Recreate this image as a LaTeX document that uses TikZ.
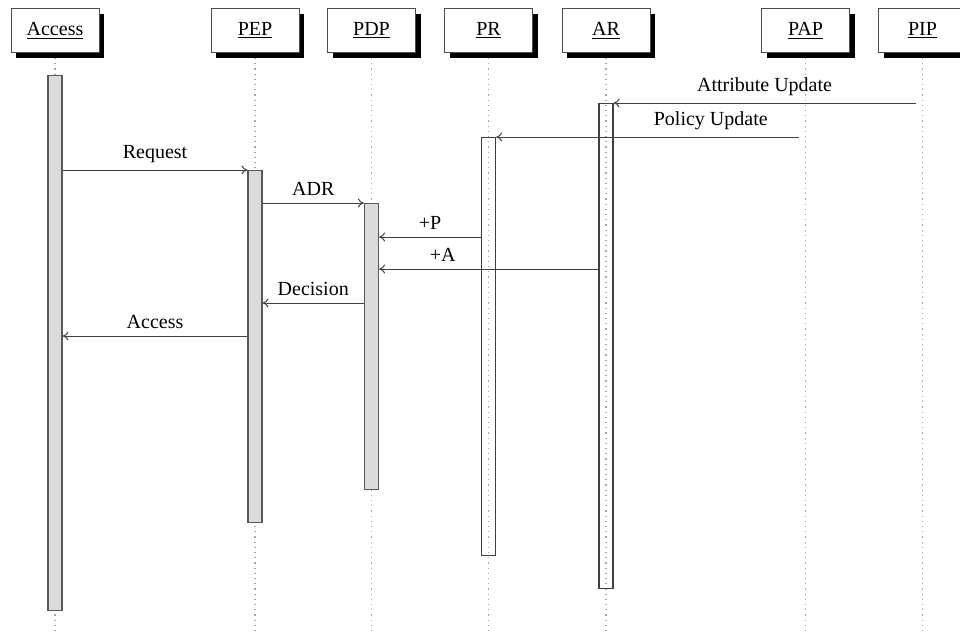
\documentclass[tikz,border=0pt]{standalone}
\usepackage{fontspec}
\setmainfont{Liberation Serif}
\usetikzlibrary{arrows.meta, shadows}

\begin{document}
\begin{tikzpicture}[x=0.5pt, y=-0.5pt,
    actor/.style={draw=black!70, fill=white, minimum width=44pt, minimum height=22pt, inner sep=0pt,
        drop shadow={shadow xshift=2.5pt, shadow yshift=-2.5pt, fill=black, opacity=1}},
    lifeline/.style={dotted, black!35, line width=0.6pt},
    actbar/.style={draw=black!65, fill=black!14, minimum width=7pt, inner sep=0pt, anchor=north, line width=0.6pt},
    openbar/.style={actbar, fill=none, draw=black!75},
    msg/.style={-{To[length=3pt, width=4.5pt]}, black!75, line width=0.5pt},
    lbl/.style={above, text=black, inner sep=3.4pt}]
        \useasboundingbox (0,0) rectangle (960,632);

        % participants
        \node[actor] (access) at (55,30.5) {\underline{Access}};
        \node[actor] (pep) at (255,30.5) {\underline{PEP}};
        \node[actor] (pdp) at (371.5,30.5) {\underline{PDP}};
        \node[actor] (pr) at (488.5,30.5) {\underline{PR}};
        \node[actor] (ar) at (606,30.5) {\underline{AR}};
        \node[actor] (pap) at (805.5,30.5) {\underline{PAP}};
        \node[actor] (pip) at (922.5,30.5) {\underline{PIP}};

        \coordinate (bottom) at (0,632);
        \foreach \p in {access, pep, pdp, pr, ar, pap, pip}
            \draw[lifeline] ([yshift=-2.5pt]\p.south) -- (\p.south |- bottom);

        % activations
        \node[actbar, minimum height=267.5pt] (accbar) at (access.south |- 0,75) {};
        \node[actbar, minimum height=176pt] (pepbar) at (pep.south |- 0,170) {};
        \node[actbar, minimum height=143pt] (pdpbar) at (pdp.south |- 0,203) {};
        \node[openbar, minimum height=209pt] (prbar) at (pr.south |- 0,137) {};
        \node[openbar, minimum height=242.5pt] (arbar) at (ar.south |- 0,103) {};

        % messages
        \coordinate (attr) at (0,103);
        \coordinate (pol) at (0,137);
        \coordinate (req) at (0,170);
        \coordinate (adr) at (0,203);
        \coordinate (addp) at (0,237);
        \coordinate (adda) at (0,269);
        \coordinate (dec) at (0,303);
        \coordinate (acc) at (0,336);

        \draw[msg] ([xshift=-3.5pt]pip.south |- attr) -- (arbar.east |- attr) node[lbl, midway] {Attribute Update};
        \draw[msg] ([xshift=-3.5pt]pap.south |- pol) -- (prbar.east |- pol) node[lbl, pos=0.29] {Policy Update};
        \draw[msg] (accbar.east |- req) -- (pepbar.west |- req) node[lbl, midway] {Request};
        \draw[msg] (pepbar.east |- adr) -- (pdpbar.west |- adr) node[lbl, midway] {ADR};
        \draw[msg] (prbar.west |- addp) -- (pdpbar.east |- addp) node[lbl, midway] {+P};
        \draw[msg] (arbar.west |- adda) -- (pdpbar.east |- adda) node[lbl, pos=0.71] {+A};
        \draw[msg] (pdpbar.west |- dec) -- (pepbar.east |- dec) node[lbl, midway] {Decision};
        \draw[msg] (pepbar.west |- acc) -- (accbar.east |- acc) node[lbl, midway] {Access};

    \end{tikzpicture}
\end{document}
